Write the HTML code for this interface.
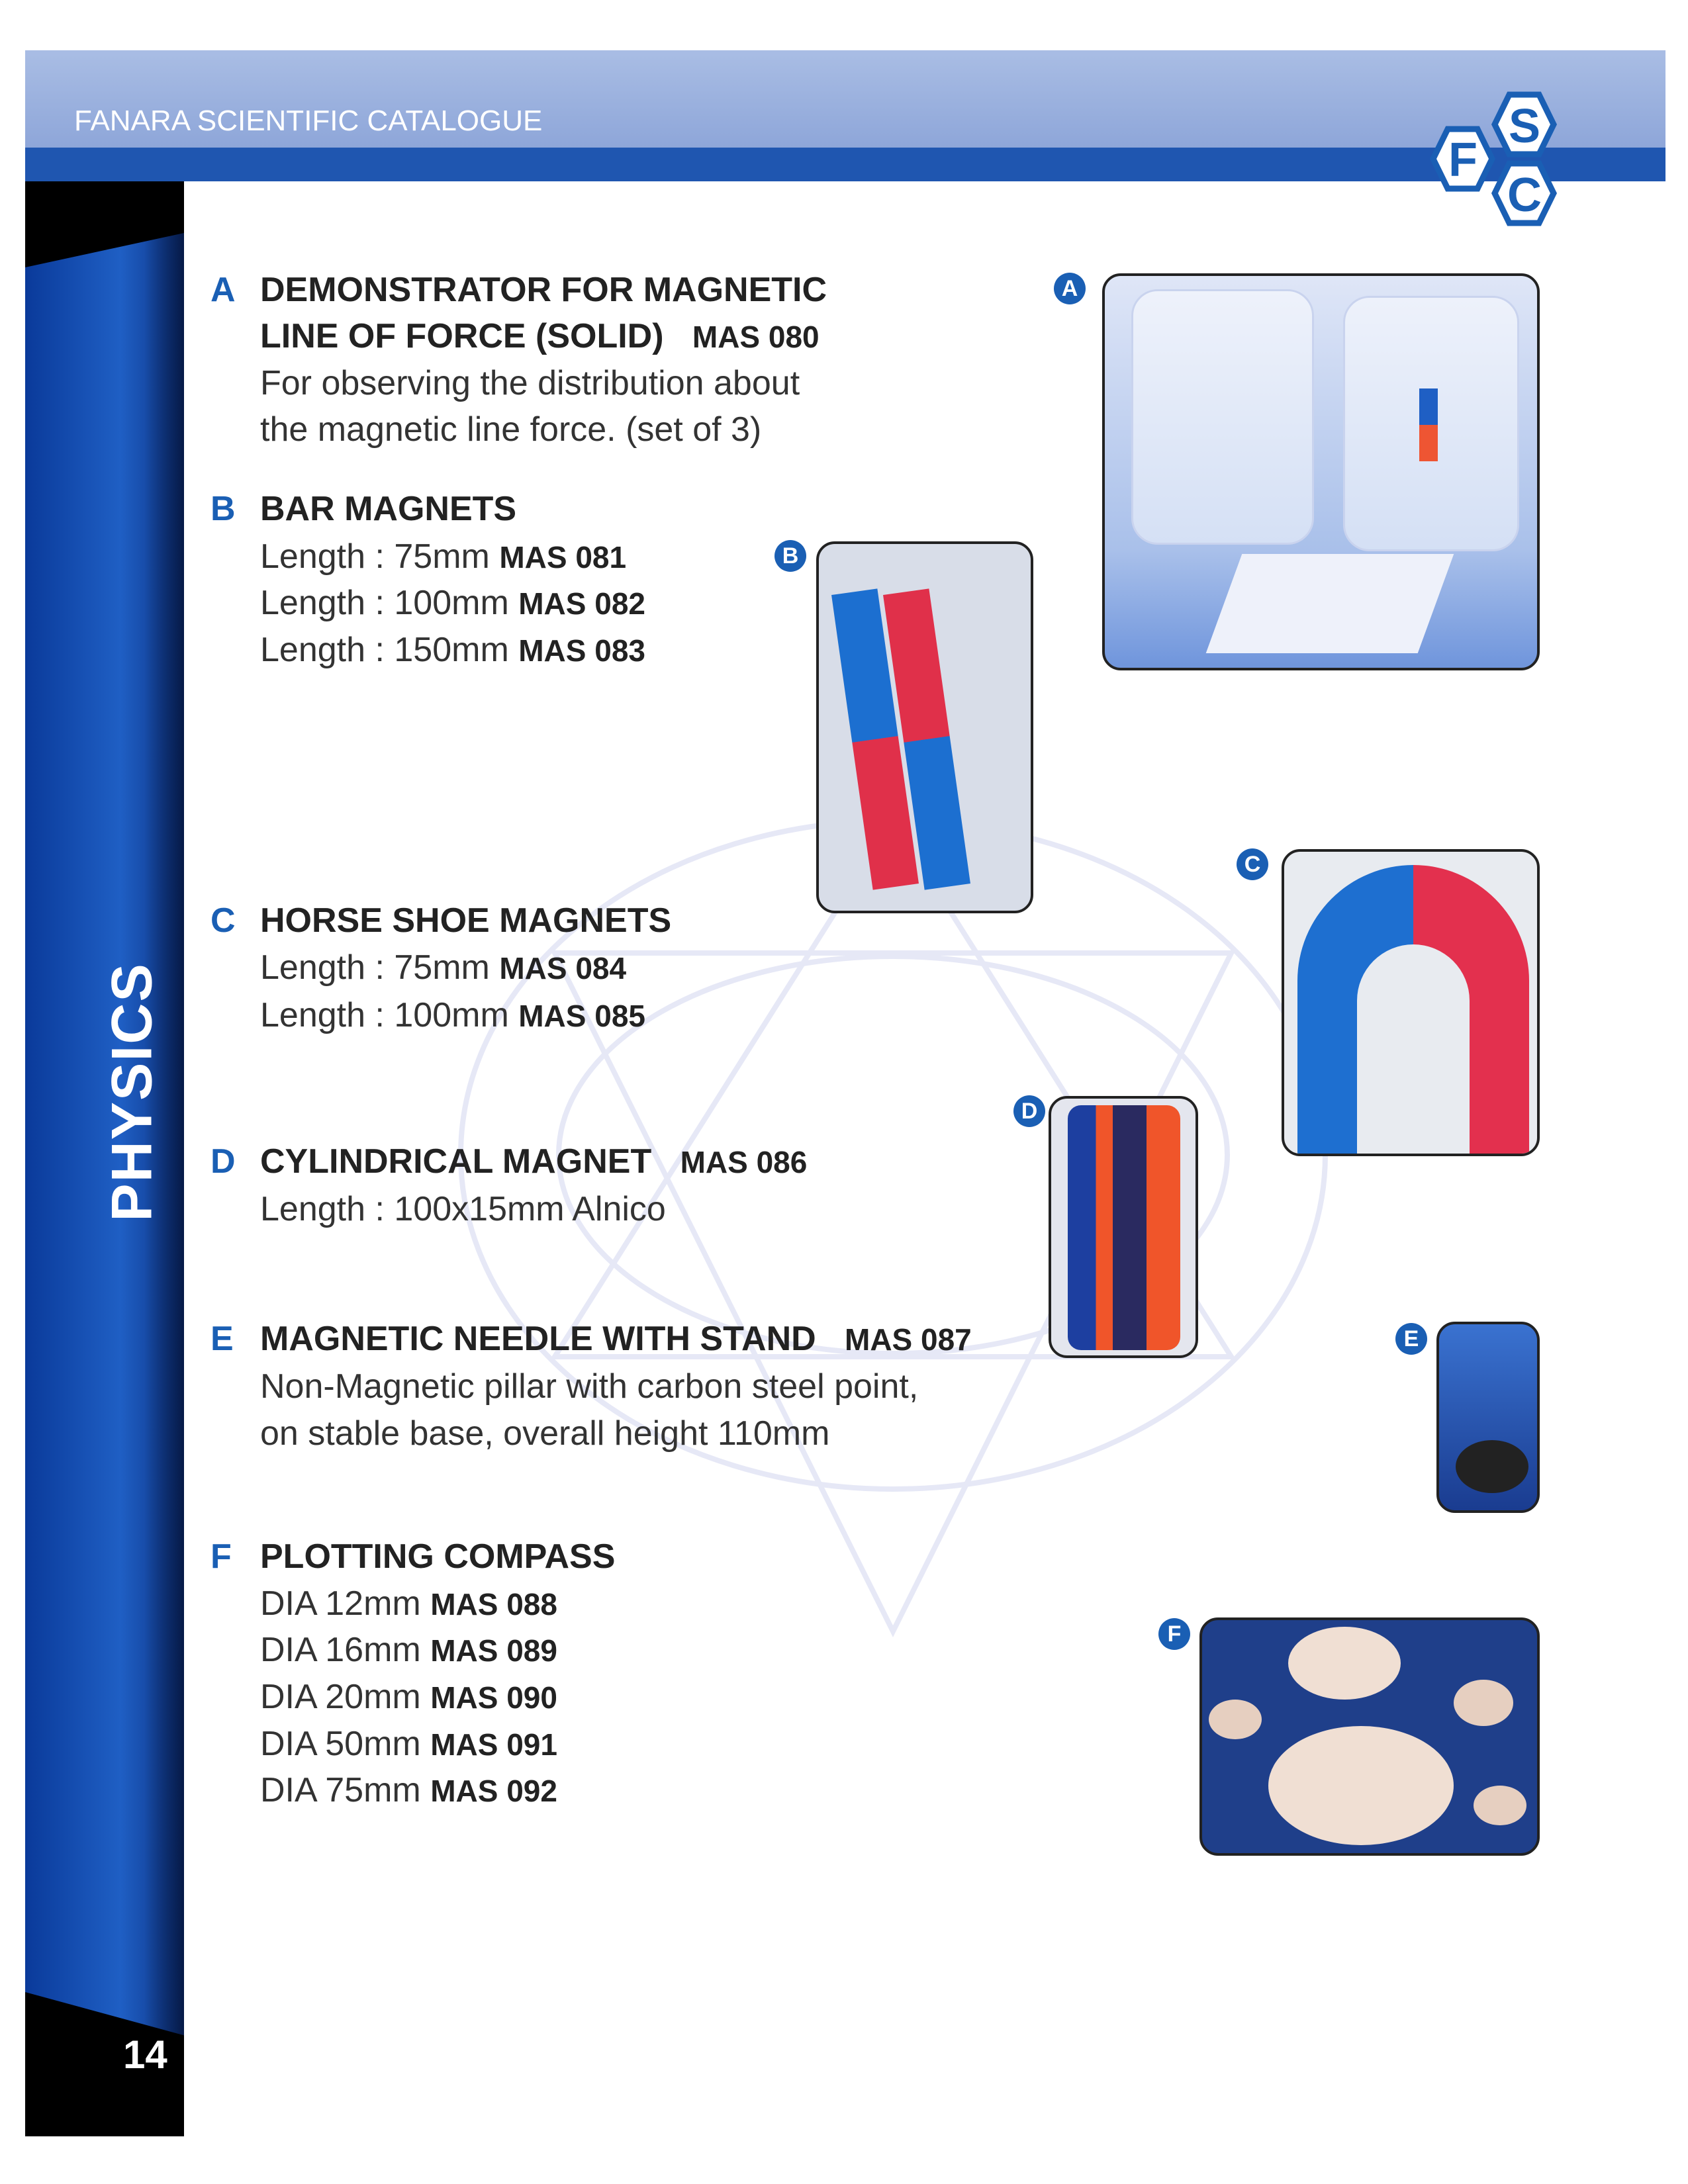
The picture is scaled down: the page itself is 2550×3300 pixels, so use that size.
<!DOCTYPE html>
<html><head><meta charset="utf-8"><style>
body{margin:0;width:2550px;height:3300px;position:relative;background:#fff;overflow:hidden;font-family:"Liberation Sans",sans-serif}
.a{position:absolute}
.t{position:absolute;font-size:52px;color:#333;white-space:nowrap;line-height:70px}
.h{font-weight:bold;color:#222}
.l{color:#1a5fb4;font-weight:bold}
.c{font-weight:bold;font-size:46px;color:#222}
.img{position:absolute;border:4px solid #222;border-radius:28px;overflow:hidden;box-sizing:border-box}
.bd{position:absolute;width:48px;height:48px;border-radius:50%;background:#1a5fb4;color:#fff;font-weight:bold;font-size:34px;text-align:center;line-height:48px}
</style></head><body>
<!-- header -->
<div class="a" style="left:38px;top:76px;width:2478px;height:147px;background:linear-gradient(180deg,#a9bde4,#8ea6d9)"></div>
<div class="a" style="left:38px;top:223px;width:2478px;height:51px;background:#1f56b0"></div>
<div class="a" style="left:112px;top:158px;color:#fff;font-size:44px">FANARA SCIENTIFIC CATALOGUE</div>
<!-- watermark -->
<svg class="a" style="left:0;top:0" width="2550" height="3300"><g fill="none" stroke="#e6e8f6" stroke-width="8"><ellipse cx="1349" cy="1745" rx="653" ry="505"/><ellipse cx="1349" cy="1745" rx="505" ry="300"/><polygon points="1349,1240 1860,2050 838,2050"/><polygon points="1349,2465 1860,1440 838,1440"/></g></svg>
<svg class="a" style="left:2115px;top:135px" width="240" height="215" viewBox="0 0 240 215">
<g fill="#fff" stroke="#1a5fb4" stroke-width="9">
<polygon points="165,8 210,8 232,53 210,98 165,98 143,53"/>
<polygon points="72,60 117,60 139,105 117,150 72,150 50,105"/>
<polygon points="165,112 210,112 232,157 210,202 165,202 143,157"/>
</g>
<g fill="#1a5fb4" font-family="Liberation Sans" font-weight="bold" font-size="72" text-anchor="middle">
<text x="188" y="80">S</text><text x="95" y="131">F</text><text x="188" y="184">C</text></g></svg>
<!-- sidebar -->
<div class="a" style="left:38px;top:274px;width:240px;height:2954px;background:linear-gradient(90deg,#0a3a9a,#1f5fc4 60%,#0b2f80)"></div>
<div class="a" style="left:38px;top:274px;width:240px;height:130px;background:#000;clip-path:polygon(0 0,100% 0,100% 60%,0 100%)"></div>
<div class="a" style="left:38px;top:3010px;width:240px;height:218px;background:#000;clip-path:polygon(0 0,100% 30%,100% 100%,0 100%)"></div>
<div class="a" style="left:218px;top:274px;width:60px;height:2954px;background:linear-gradient(90deg,rgba(0,0,0,0),rgba(0,0,0,.45))"></div>
<div class="a" style="left:186px;top:3070px;color:#fff;font-weight:bold;font-size:60px">14</div>
<div class="a" style="left:200px;top:1650px;transform:translate(-50%,-50%) rotate(-90deg);color:#fff;font-weight:bold;font-size:86px;letter-spacing:2px">PHYSICS</div>
<!-- text -->
<div class="t" style="left:318px;top:403px"><span class="l">A</span></div>
<div class="t h" style="left:393px;top:403px">DEMONSTRATOR FOR MAGNETIC</div>
<div class="t" style="left:393px;top:473px"><span class="h">LINE OF FORCE (SOLID)</span> &nbsp; <span class="c">MAS 080</span></div>
<div class="t" style="left:393px;top:544px">For observing the distribution about</div>
<div class="t" style="left:393px;top:614px">the magnetic line force. (set of 3)</div>

<div class="t" style="left:318px;top:734px"><span class="l">B</span></div>
<div class="t h" style="left:393px;top:734px">BAR MAGNETS</div>
<div class="t" style="left:393px;top:806px">Length : 75mm <span class="c">MAS 081</span></div>
<div class="t" style="left:393px;top:876px">Length : 100mm <span class="c">MAS 082</span></div>
<div class="t" style="left:393px;top:947px">Length : 150mm <span class="c">MAS 083</span></div>

<div class="t" style="left:318px;top:1356px"><span class="l">C</span></div>
<div class="t h" style="left:393px;top:1356px">HORSE SHOE MAGNETS</div>
<div class="t" style="left:393px;top:1427px">Length : 75mm <span class="c">MAS 084</span></div>
<div class="t" style="left:393px;top:1499px">Length : 100mm <span class="c">MAS 085</span></div>

<div class="t" style="left:318px;top:1720px"><span class="l">D</span></div>
<div class="t" style="left:393px;top:1720px"><span class="h">CYLINDRICAL MAGNET</span> &nbsp; <span class="c">MAS 086</span></div>
<div class="t" style="left:393px;top:1792px">Length : 100x15mm Alnico</div>

<div class="t" style="left:318px;top:1988px"><span class="l">E</span></div>
<div class="t" style="left:393px;top:1988px"><span class="h">MAGNETIC NEEDLE WITH STAND</span> &nbsp; <span class="c">MAS 087</span></div>
<div class="t" style="left:393px;top:2060px">Non-Magnetic pillar with carbon steel point,</div>
<div class="t" style="left:393px;top:2131px">on stable base, overall height 110mm</div>

<div class="t" style="left:318px;top:2317px"><span class="l">F</span></div>
<div class="t h" style="left:393px;top:2317px">PLOTTING COMPASS</div>
<div class="t" style="left:393px;top:2388px">DIA 12mm <span class="c">MAS 088</span></div>
<div class="t" style="left:393px;top:2458px">DIA 16mm <span class="c">MAS 089</span></div>
<div class="t" style="left:393px;top:2529px">DIA 20mm <span class="c">MAS 090</span></div>
<div class="t" style="left:393px;top:2600px">DIA 50mm <span class="c">MAS 091</span></div>
<div class="t" style="left:393px;top:2670px">DIA 75mm <span class="c">MAS 092</span></div>
<!-- images -->
<div class="img" style="left:1665px;top:413px;width:661px;height:600px;background:linear-gradient(180deg,#dfe6f7,#a9c0ea 70%,#6f95dc)">
<div class="a" style="left:40px;top:20px;width:270px;height:380px;border-radius:40px;background:rgba(255,255,255,.5);border:3px solid #c9d3ee"></div>
<div class="a" style="left:360px;top:30px;width:260px;height:380px;border-radius:40px;background:rgba(255,255,255,.5);border:3px solid #c9d3ee"></div>
<div class="a" style="left:475px;top:170px;width:28px;height:110px;background:linear-gradient(#1f5fc4 50%,#e53 50%)"></div>
<div class="a" style="left:180px;top:420px;width:320px;height:150px;background:#eef1fa;transform:skewX(-20deg)"></div>
</div>
<div class="img" style="left:1233px;top:818px;width:328px;height:562px;background:#d8dde8">
<div class="a" style="left:50px;top:70px;width:70px;height:450px;background:linear-gradient(#1c6fd0 50%,#e0304a 50%);transform:rotate(-8deg)"></div>
<div class="a" style="left:128px;top:70px;width:70px;height:450px;background:linear-gradient(#e0304a 50%,#1c6fd0 50%);transform:rotate(-8deg)"></div>
</div>
<div class="img" style="left:1936px;top:1283px;width:390px;height:464px;background:#e8ebf0">
<div class="a" style="left:20px;top:20px;width:350px;height:460px;border-radius:175px 175px 0 0;background:linear-gradient(90deg,#1e6fd0 50%,#e3304e 50%)"></div>
<div class="a" style="left:110px;top:140px;width:170px;height:360px;border-radius:85px 85px 0 0;background:#e8ebf0"></div>
</div>
<div class="img" style="left:1584px;top:1656px;width:226px;height:396px;background:#e4e6ee">
<div class="a" style="left:25px;top:10px;width:170px;height:370px;border-radius:20px;background:linear-gradient(90deg,#1d3fa0 25%,#f0552a 25%,#f0552a 40%,#2a2a60 40%,#2a2a60 70%,#f0552a 70%)"></div>
</div>
<div class="img" style="left:2170px;top:1997px;width:156px;height:289px;background:linear-gradient(#3a72d0,#1a3c90)">
<div class="a" style="left:25px;top:175px;width:110px;height:80px;border-radius:50%;background:#222"></div>
</div>
<div class="img" style="left:1812px;top:2444px;width:514px;height:360px;background:#1f3f8a">
<div class="a" style="left:130px;top:10px;width:170px;height:110px;border-radius:50%;background:#f0dfd3"></div>
<div class="a" style="left:100px;top:160px;width:280px;height:180px;border-radius:50%;background:#f0dfd3"></div>
<div class="a" style="left:10px;top:120px;width:80px;height:60px;border-radius:50%;background:#e6cfc0"></div>
<div class="a" style="left:380px;top:90px;width:90px;height:70px;border-radius:50%;background:#e6cfc0"></div>
<div class="a" style="left:410px;top:250px;width:80px;height:60px;border-radius:50%;background:#e6cfc0"></div>
</div>
<div class="bd" style="left:1592px;top:412px">A</div>
<div class="bd" style="left:1170px;top:816px">B</div>
<div class="bd" style="left:1868px;top:1282px">C</div>
<div class="bd" style="left:1531px;top:1655px">D</div>
<div class="bd" style="left:2108px;top:1999px">E</div>
<div class="bd" style="left:1750px;top:2445px">F</div>
</body></html>
